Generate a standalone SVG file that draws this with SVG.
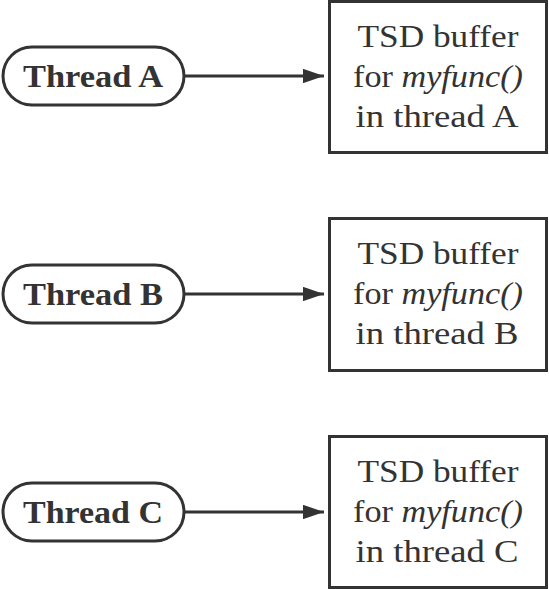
<svg xmlns="http://www.w3.org/2000/svg" width="549" height="589" viewBox="0 0 549 589">
  <style>
    .pill { fill: #ffffff; stroke: #333333; stroke-width: 3; }
    .box { fill: #ffffff; stroke: #333333; stroke-width: 3; }
    .thread { font-family: "Liberation Serif", "DejaVu Serif", serif; font-weight: bold; font-size: 32px; fill: #333333; text-anchor: middle; }
    .buf { font-family: "Liberation Serif", "DejaVu Serif", serif; font-size: 32px; fill: #333333; text-anchor: middle; }
    .fn { font-style: italic; }
    .wire { stroke: #333333; stroke-width: 3; fill: none; }
  </style>
  <defs>
    <marker id="arrow" markerWidth="7" markerHeight="4.8" refX="7" refY="2.4" orient="auto" markerUnits="strokeWidth">
      <path d="M0,0 L7,2.4 L0,4.8 Z" fill="#333333"/>
    </marker>
  </defs>
  <rect width="549" height="589" fill="#ffffff"/>

  <!-- thread ovals -->
  <g id="thread-a">
    <rect class="pill" x="3" y="47" width="181" height="58" rx="29" ry="29"/>
    <text class="thread" x="93" y="87" textLength="140" lengthAdjust="spacingAndGlyphs">Thread A</text>
  </g>
  <g id="thread-b">
    <rect class="pill" x="3" y="265" width="181" height="58" rx="29" ry="29"/>
    <text class="thread" x="93" y="305" textLength="140" lengthAdjust="spacingAndGlyphs">Thread B</text>
  </g>
  <g id="thread-c">
    <rect class="pill" x="3" y="483" width="181" height="58" rx="29" ry="29"/>
    <text class="thread" x="93" y="523" textLength="140" lengthAdjust="spacingAndGlyphs">Thread C</text>
  </g>

  <!-- per-thread TSD buffers -->
  <g id="buffer-a">
    <rect class="box" x="329.5" y="1.5" width="217" height="151"/>
    <text class="buf" x="438" y="47" textLength="161" lengthAdjust="spacingAndGlyphs">TSD buffer</text>
    <text class="buf" x="438" y="87" textLength="170" lengthAdjust="spacingAndGlyphs">for <tspan class="fn">myfunc()</tspan></text>
    <text class="buf" x="437" y="127" textLength="163" lengthAdjust="spacingAndGlyphs">in thread A</text>
  </g>
  <g id="buffer-b">
    <rect class="box" x="329.5" y="218.5" width="217" height="152"/>
    <text class="buf" x="438" y="264" textLength="161" lengthAdjust="spacingAndGlyphs">TSD buffer</text>
    <text class="buf" x="438" y="304" textLength="170" lengthAdjust="spacingAndGlyphs">for <tspan class="fn">myfunc()</tspan></text>
    <text class="buf" x="437" y="344" textLength="163" lengthAdjust="spacingAndGlyphs">in thread B</text>
  </g>
  <g id="buffer-c">
    <rect class="box" x="329.5" y="436.5" width="217" height="151"/>
    <text class="buf" x="438" y="482" textLength="161" lengthAdjust="spacingAndGlyphs">TSD buffer</text>
    <text class="buf" x="438" y="522" textLength="170" lengthAdjust="spacingAndGlyphs">for <tspan class="fn">myfunc()</tspan></text>
    <text class="buf" x="437" y="562" textLength="163" lengthAdjust="spacingAndGlyphs">in thread C</text>
  </g>

  <!-- connectors -->
  <g id="connectors">
    <line class="wire" x1="184" y1="76" x2="324" y2="76" marker-end="url(#arrow)"/>
    <line class="wire" x1="184" y1="294" x2="324" y2="294" marker-end="url(#arrow)"/>
    <line class="wire" x1="184" y1="512" x2="324" y2="512" marker-end="url(#arrow)"/>
  </g>
</svg>
